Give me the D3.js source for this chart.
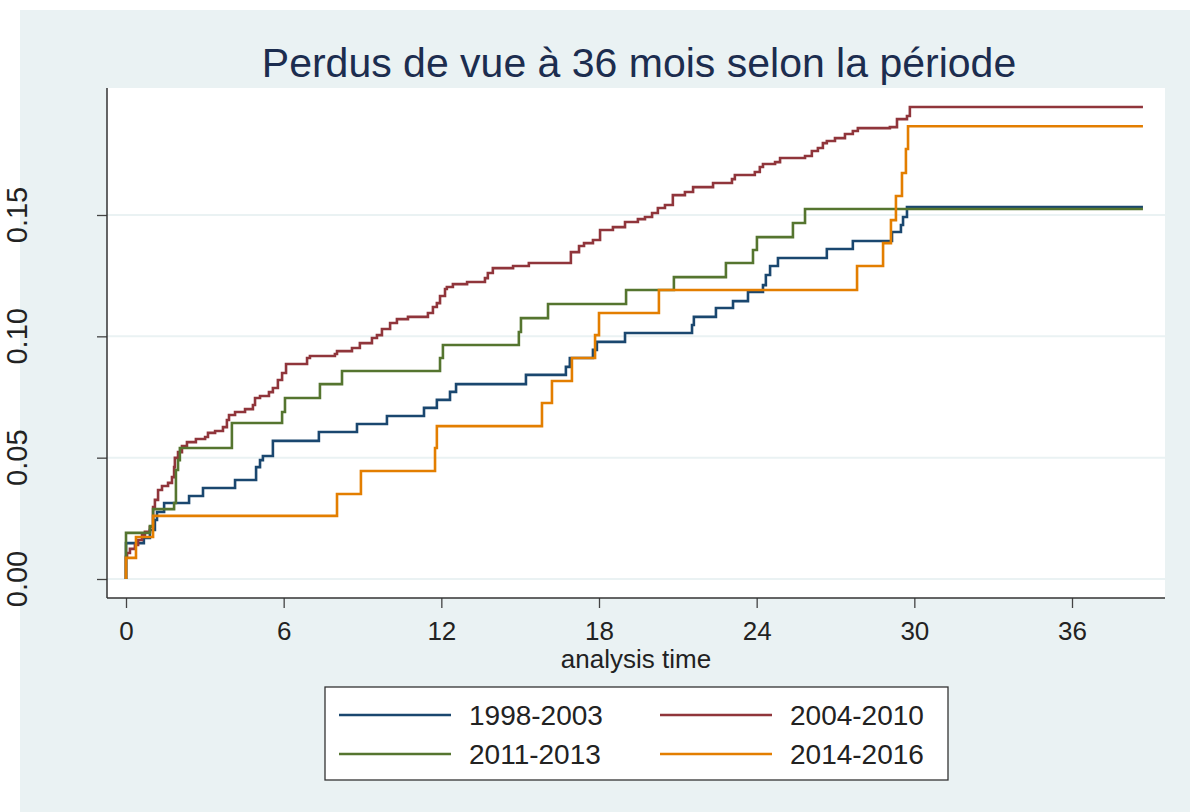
<!DOCTYPE html>
<html>
<head>
<meta charset="utf-8">
<script src="https://cdn.jsdelivr.net/npm/d3@7"></script>
<style>
html, body { margin: 0; padding: 0; background: #fff; }
svg { display: block; font-family: "Liberation Sans", Arial, sans-serif; }
</style>
</head>
<body>
<svg id="chart" width="1190" height="812"></svg>
<script>
// Perdus de vue à 36 mois — courbes de Kaplan-Meier (échec cumulé)

const title = "Perdus de vue à 36 mois selon la période";
const xTitle = "analysis time";
const xTicks = [0, 6, 12, 18, 24, 30, 36];
const yTicks = [0, 0.05, 0.10, 0.15];
const periods = ["1998-2003", "2004-2010", "2011-2013", "2014-2016"];
const colors = ["#1a476f", "#90353b", "#55752f", "#e37e00"];
const endTime = 38.7;

// [mois, proportion] après chaque saut
const s1998 = [[0,0],[0,0.0148],[0.68,0.0169],[0.91,0.0202],[1.10,0.0243],[1.18,0.0276],[1.45,0.0313],
  [2.40,0.0342],[2.93,0.0375],[4.15,0.0408],[4.95,0.0461],[5.10,0.0490],[5.21,0.0507],[5.59,0.0569],
  [7.34,0.0606],[8.79,0.0639],[9.93,0.0672],[11.34,0.0705],[11.83,0.0738],[12.33,0.0771],[12.56,0.0803],
  [15.22,0.0841],[16.74,0.0874],[16.89,0.0911],[17.77,0.0944],[17.92,0.0977],[18.99,0.1014],[21.54,0.1047],
  [21.61,0.1080],[22.45,0.1117],[23.10,0.1145],[23.67,0.1183],[24.24,0.1211],[24.35,0.1253],[24.51,0.1290],
  [24.81,0.1323],[26.67,0.1360],[27.66,0.1393],[29.15,0.1430],[29.49,0.1459],[29.57,0.1492],[29.72,0.1533]];

const s2004 = [[0,0],[0,0.0091],[0.04,0.0107],[0.15,0.0124],[0.34,0.0140],[0.46,0.0161],[0.61,0.0181],
  [0.72,0.0194],[0.91,0.0214],[1.03,0.0297],[1.10,0.0326],[1.22,0.0367],[1.37,0.0383],[1.60,0.0396],
  [1.75,0.0420],[1.83,0.0461],[1.86,0.0499],[1.98,0.0523],[2.13,0.0548],[2.32,0.0564],[2.66,0.0577],
  [3.01,0.0585],[3.12,0.0602],[3.39,0.0610],[3.69,0.0626],[3.84,0.0655],[3.92,0.0676],[4.15,0.0688],
  [4.53,0.0700],[4.83,0.0717],[4.91,0.0746],[5.10,0.0754],[5.44,0.0770],[5.59,0.0787],[5.78,0.0820],
  [5.94,0.0849],[6.09,0.0886],[6.89,0.0911],[7.00,0.0919],[7.95,0.0927],[8.03,0.0939],[8.60,0.0952],
  [8.90,0.0972],[9.36,0.0993],[9.55,0.1005],[9.74,0.1030],[10.05,0.1055],[10.31,0.1071],[10.73,0.1080],
  [11.49,0.1096],[11.68,0.1121],[11.83,0.1137],[11.95,0.1166],[12.14,0.1195],[12.21,0.1203],[12.44,0.1215],
  [12.98,0.1224],[13.66,0.1240],[13.77,0.1261],[13.96,0.1281],[14.73,0.1290],[15.33,0.1302],[16.93,0.1347],
  [17.24,0.1372],[17.43,0.1384],[17.77,0.1397],[18.04,0.1438],[18.53,0.1450],[18.99,0.1471],[19.48,0.1483],
  [19.75,0.1492],[20.02,0.1508],[20.24,0.1529],[20.51,0.1541],[20.81,0.1582],[21.27,0.1595],[21.58,0.1615],
  [22.34,0.1632],[23.06,0.1648],[23.17,0.1665],[23.93,0.1677],[24.12,0.1698],[24.24,0.1710],[24.70,0.1718],
  [24.89,0.1735],[25.84,0.1743],[26.10,0.1764],[26.33,0.1776],[26.52,0.1796],[26.67,0.1805],[26.98,0.1817],
  [27.36,0.1834],[27.66,0.1846],[27.85,0.1858],[29.07,0.1862],[29.34,0.1895],[29.72,0.1908],[29.83,0.1945]];

const s2011 = [[0,0],[0,0.0190],[0.91,0.0218],[1.03,0.0288],[1.83,0.0313],[1.90,0.0449],[1.98,0.0490],
  [2.05,0.0540],[4.03,0.0643],[5.94,0.0688],[6.05,0.0746],[7.38,0.0803],[8.22,0.0857],[11.95,0.0911],
  [12.06,0.0964],[14.95,0.1018],[15.03,0.1075],[16.06,0.1133],[19.03,0.1191],[20.85,0.1244],[22.83,0.1302],
  [23.86,0.1356],[24.01,0.1409],[25.38,0.1467],[25.84,0.1525]];

const s2014 = [[0,0],[0,0.0087],[0.38,0.0173],[1.03,0.0260],[8.03,0.0350],[8.94,0.0445],[11.76,0.0540],
  [11.83,0.0630],[15.83,0.0725],[16.21,0.0816],[16.97,0.0911],[17.85,0.1005],[18.00,0.1096],[20.28,0.1191],
  [27.82,0.1290],[28.81,0.1384],[29.11,0.1479],[29.30,0.1578],[29.53,0.1673],[29.68,0.1772],[29.76,0.1866]];

const series = [s1998, s2004, s2011, s2014];

const cfg = {
    plot: { left: 107, right: 1165, top: 88, bottom: 598 },
    bg: "#eaf2f3",
    grid: "#eaf2f3",
    ink: "#222222",
    titleInk: "#1c2d4f"
};

const svg = d3.select("#chart");

// fond du graphique (l'image d'origine est rognée en haut et à gauche)
svg.append("rect").attr("x", 20).attr("y", 10).attr("width", 1170).attr("height", 802)
    .attr("fill", cfg.bg);
svg.append("rect").attr("x", cfg.plot.left).attr("y", cfg.plot.top)
    .attr("width", cfg.plot.right - cfg.plot.left).attr("height", cfg.plot.bottom - cfg.plot.top)
    .attr("fill", "#fff");

const x = d3.scaleLinear().domain([0, 36]).range([126, 1072]);
const y = d3.scaleLinear().domain([0, 0.15]).range([579, 215]);

// grille
svg.append("g").selectAll("line").data(yTicks).join("line")
    .attr("x1", cfg.plot.left).attr("x2", cfg.plot.right)
    .attr("y1", d => y(d)).attr("y2", d => y(d))
    .attr("stroke", cfg.grid).attr("stroke-width", 2);

// courbes
const line = d3.line().x(d => x(d[0])).y(d => y(d[1])).curve(d3.curveStepAfter);
svg.append("g").selectAll("path").data(series).join("path")
    .attr("d", d => line(d.concat([[endTime, d[d.length - 1][1]]])))
    .attr("fill", "none")
    .attr("stroke", (d, i) => colors[i])
    .attr("stroke-width", 2.6)
    .attr("stroke-linejoin", "miter");

// axe x
const xAxis = d3.axisBottom(x).tickValues(xTicks).tickSize(10).tickPadding(14);
const gx = svg.append("g").attr("transform", `translate(0,${cfg.plot.bottom})`).call(xAxis);
gx.select(".domain").remove();
gx.selectAll(".tick line").attr("stroke", "#444").attr("stroke-width", 1.3);
gx.selectAll(".tick text").attr("font-size", 26).attr("fill", cfg.ink)
    .attr("font-family", "Liberation Sans, Arial, sans-serif");

// axe y
const yAxis = d3.axisLeft(y).tickValues(yTicks).tickSize(10).tickFormat("");
const gy = svg.append("g").attr("transform", `translate(${cfg.plot.left},0)`).call(yAxis);
gy.select(".domain").remove();
gy.selectAll(".tick line").attr("stroke", "#444").attr("stroke-width", 1.3);

// étiquettes y tournées, coupées par le bord gauche comme dans l'original
svg.append("g").selectAll("text").data(yTicks).join("text")
    .attr("transform", d => `translate(27,${y(d)}) rotate(-90)`)
    .attr("text-anchor", "middle")
    .attr("font-size", 29).attr("fill", cfg.ink)
    .text(d3.format(".2f"));

// lignes des axes
svg.append("line").attr("x1", cfg.plot.left).attr("x2", cfg.plot.left)
    .attr("y1", cfg.plot.top).attr("y2", cfg.plot.bottom)
    .attr("stroke", "#333").attr("stroke-width", 1.5);
svg.append("line").attr("x1", cfg.plot.left).attr("x2", cfg.plot.right)
    .attr("y1", cfg.plot.bottom).attr("y2", cfg.plot.bottom)
    .attr("stroke", "#333").attr("stroke-width", 1.5);

// titres
svg.append("text").attr("x", 639).attr("y", 77).attr("text-anchor", "middle")
    .attr("font-size", 41).attr("fill", cfg.titleInk).text(title);
svg.append("text").attr("x", 636).attr("y", 668).attr("text-anchor", "middle")
    .attr("font-size", 26).attr("fill", cfg.ink).text(xTitle);

// légende
const leg = svg.append("g");
leg.append("rect").attr("x", 325).attr("y", 687).attr("width", 623).attr("height", 93)
    .attr("fill", "#fff").attr("stroke", "#333").attr("stroke-width", 1.3);
const legItems = leg.selectAll("g.item").data(periods).join("g").attr("class", "item")
    .attr("transform", (d, i) => `translate(${i % 2 ? 660 : 339},${i < 2 ? 715 : 754})`);
legItems.append("line").attr("x1", 0).attr("x2", 112).attr("y1", 0).attr("y2", 0)
    .attr("stroke", (d, i) => colors[i]).attr("stroke-width", 2.6);
legItems.append("text").attr("x", 130).attr("y", 10)
    .attr("font-size", 28).attr("fill", cfg.ink).text(d => d);
</script>
</body>
</html>
